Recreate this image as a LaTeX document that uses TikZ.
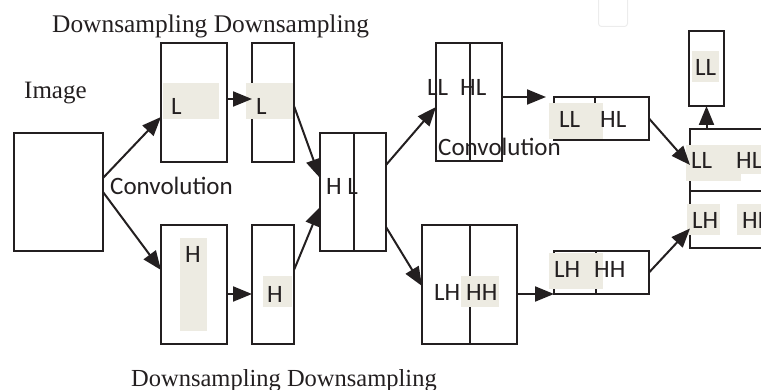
\documentclass[tikz,border=0pt]{standalone}
\usepackage{fontspec}
\setmainfont{Liberation Serif}
\newfontfamily\sansf{Carlito}
\usetikzlibrary{arrows.meta,calc}
\definecolor{shade}{RGB}{237,235,226}
\definecolor{ink}{RGB}{35,31,32}
\definecolor{faint}{RGB}{236,236,236}
\tikzset{
 box/.style={draw=ink, line width=2pt, inner sep=0pt, outer sep=0pt, anchor=north west},
 shd/.style={fill=shade, draw=none},
 lab/.style={font=\sansf\fontsize{25}{30}\selectfont, text=ink, inner sep=0pt, anchor=base west},
 sertxt/.style={font=\fontsize{25}{30}\selectfont, text=ink, inner sep=0pt, anchor=base west},
 arr/.style={draw=ink, line width=2pt, -{Triangle[length=19pt,width=15pt]}},
 divl/.style={draw=ink, line width=2pt},
}
\begin{document}
\begin{tikzpicture}[x=1pt,y=-1pt]
\useasboundingbox (0,0) rectangle (761,390);
\clip (0,0) rectangle (761,390);
% faint mark at top
\node[draw=faint, line width=1pt, rounded corners=3pt, inner sep=0pt, minimum width=29pt, minimum height=32pt, anchor=south west] (ghost) at (598,27) {};
% boxes
\node[box, minimum width=89pt, minimum height=118pt] (img) at (14,133) {};
\node[box, minimum width=66pt, minimum height=119pt] (L1) at (161,43) {};
\node[box, minimum width=42pt, minimum height=119pt] (L2) at (252,43) {};
\node[box, minimum width=66pt, minimum height=119pt] (H1) at (161,225) {};
\node[box, minimum width=42pt, minimum height=119pt] (H2) at (252,225) {};
\node[box, minimum width=66pt, minimum height=118pt] (HL) at (320,133) {};
\node[box, minimum width=66pt, minimum height=118pt] (LLHL) at (436,43) {};
\node[box, minimum width=95pt, minimum height=119pt] (LHHH) at (422,225) {};
\node[box, minimum width=95pt, minimum height=43pt] (sLL) at (554,97) {};
\node[box, minimum width=95pt, minimum height=43pt] (sLH) at (554,251) {};
\node[box, minimum width=110pt, minimum height=119pt] (R) at (690,129) {};
\node[box, minimum width=35pt, minimum height=75pt] (top) at (689,31) {};
% dividers
\draw[divl] ([xshift=1pt]HL.north) -- ([xshift=1pt]HL.south);
\draw[divl] ([xshift=1pt]LLHL.north) -- ([xshift=1pt]LLHL.south);
\draw[divl] ([xshift=0.5pt]LHHH.north) -- ([xshift=0.5pt]LHHH.south);
\draw[divl] ([xshift=-6.5pt]sLL.north) -- ([xshift=-6.5pt]sLL.south);
\draw[divl] ([xshift=-5.5pt]sLH.north) -- ([xshift=-5.5pt]sLH.south);
\draw[divl] ([yshift=-2.5pt]R.west) -- ([yshift=-2.5pt]R.east);
% shades
\fill[shd] (163,83) rectangle (219,119);
\fill[shd] (246,83) rectangle (293,119);
\fill[shd] (180,238) rectangle (207,331);
\fill[shd] (263,276) rectangle (292,307);
\fill[shd] (461,276) rectangle (499,307);
\fill[shd] (549,103) rectangle (603,139);
\fill[shd] (549,253) rectangle (603,289);
\fill[shd] (686,145) rectangle (741,181);
\fill[shd] (735,145) rectangle (770,174);
\fill[shd] (687,204) rectangle (720,235);
\fill[shd] (737,204) rectangle (770,235);
\fill[shd] (692,51) rectangle (719,82);
% texts
\node[sertxt, font=\fontsize{25.4}{30}\selectfont] (ttop) at (52,33) {Downsampling Downsampling};
\node[sertxt, font=\fontsize{24.5}{30}\selectfont] (tbot) at (131,386) {Downsampling Downsampling};
\node[sertxt] (timg) at (24,99) {Image};
\node[lab] (cv1) at (110,195) {Convolution};
\node[lab] (cv2) at (438,156) {Convolution};
\node[lab] (lL1) at (171,115) {L};
\node[lab] (lL2) at (256,115) {L};
\node[lab] (lH1) at (185,263) {H};
\node[lab] (lH2) at (267,302) {H};
\node[lab] (lHLm) at (326,195) {H L};
\node[lab] (lLL1) at (427,96) {LL};
\node[lab] (lHL1) at (460,96) {HL};
\node[lab] (lLL2) at (559,128) {LL};
\node[lab] (lHL2) at (600,128) {HL};
\node[lab] (lLL3) at (691,169) {LL};
\node[lab] (lHL3) at (736,169) {HL};
\node[lab] (lLH3) at (692,229) {LH};
\node[lab] (lHH3) at (742,229) {HH};
\node[lab] (lLL4) at (695,76) {LL};
\node[lab] (lLH1) at (434,301) {LH};
\node[lab] (lHH1) at (466,301) {HH};
\node[lab] (lLH2) at (554,278) {LH};
\node[lab] (lHH2) at (594,278) {HH};
% arrows
\coordinate (t1) at (546,97);
\draw[arr] ([yshift=14pt]img.east) -- ([yshift=-14.5pt]L1.west);
\draw[arr] (img.east) -- ([yshift=14.5pt]H1.west);
\draw[arr] ([yshift=3.5pt]L1.east) -- ([yshift=3.5pt]L2.west);
\draw[arr] ([yshift=-9.5pt]H1.east) -- ([yshift=-9.5pt]H2.west);
\draw[arr] ([yshift=-3.5pt]L2.east) -- ([yshift=14pt]HL.west);
\draw[arr] ([yshift=14.5pt]H2.east) -- ([yshift=-15pt]HL.west);
\draw[arr] ([yshift=27pt]HL.east) -- ([yshift=-5pt]LLHL.west);
\draw[arr] ([yshift=-35pt]HL.east) -- ([yshift=-1.5pt]LHHH.west);
\draw[arr] ([yshift=5pt]LLHL.east) -- (t1);
\draw[arr] ([yshift=-9.5pt]LHHH.east) -- (sLH.south west);
\draw[arr] (sLL.east) -- ([yshift=23.5pt]R.west);
\draw[arr] (sLH.east) -- ([yshift=-40pt]R.west);
\draw[arr] (top.south |- R.north) -- (top.south);
\end{tikzpicture}
\end{document}
